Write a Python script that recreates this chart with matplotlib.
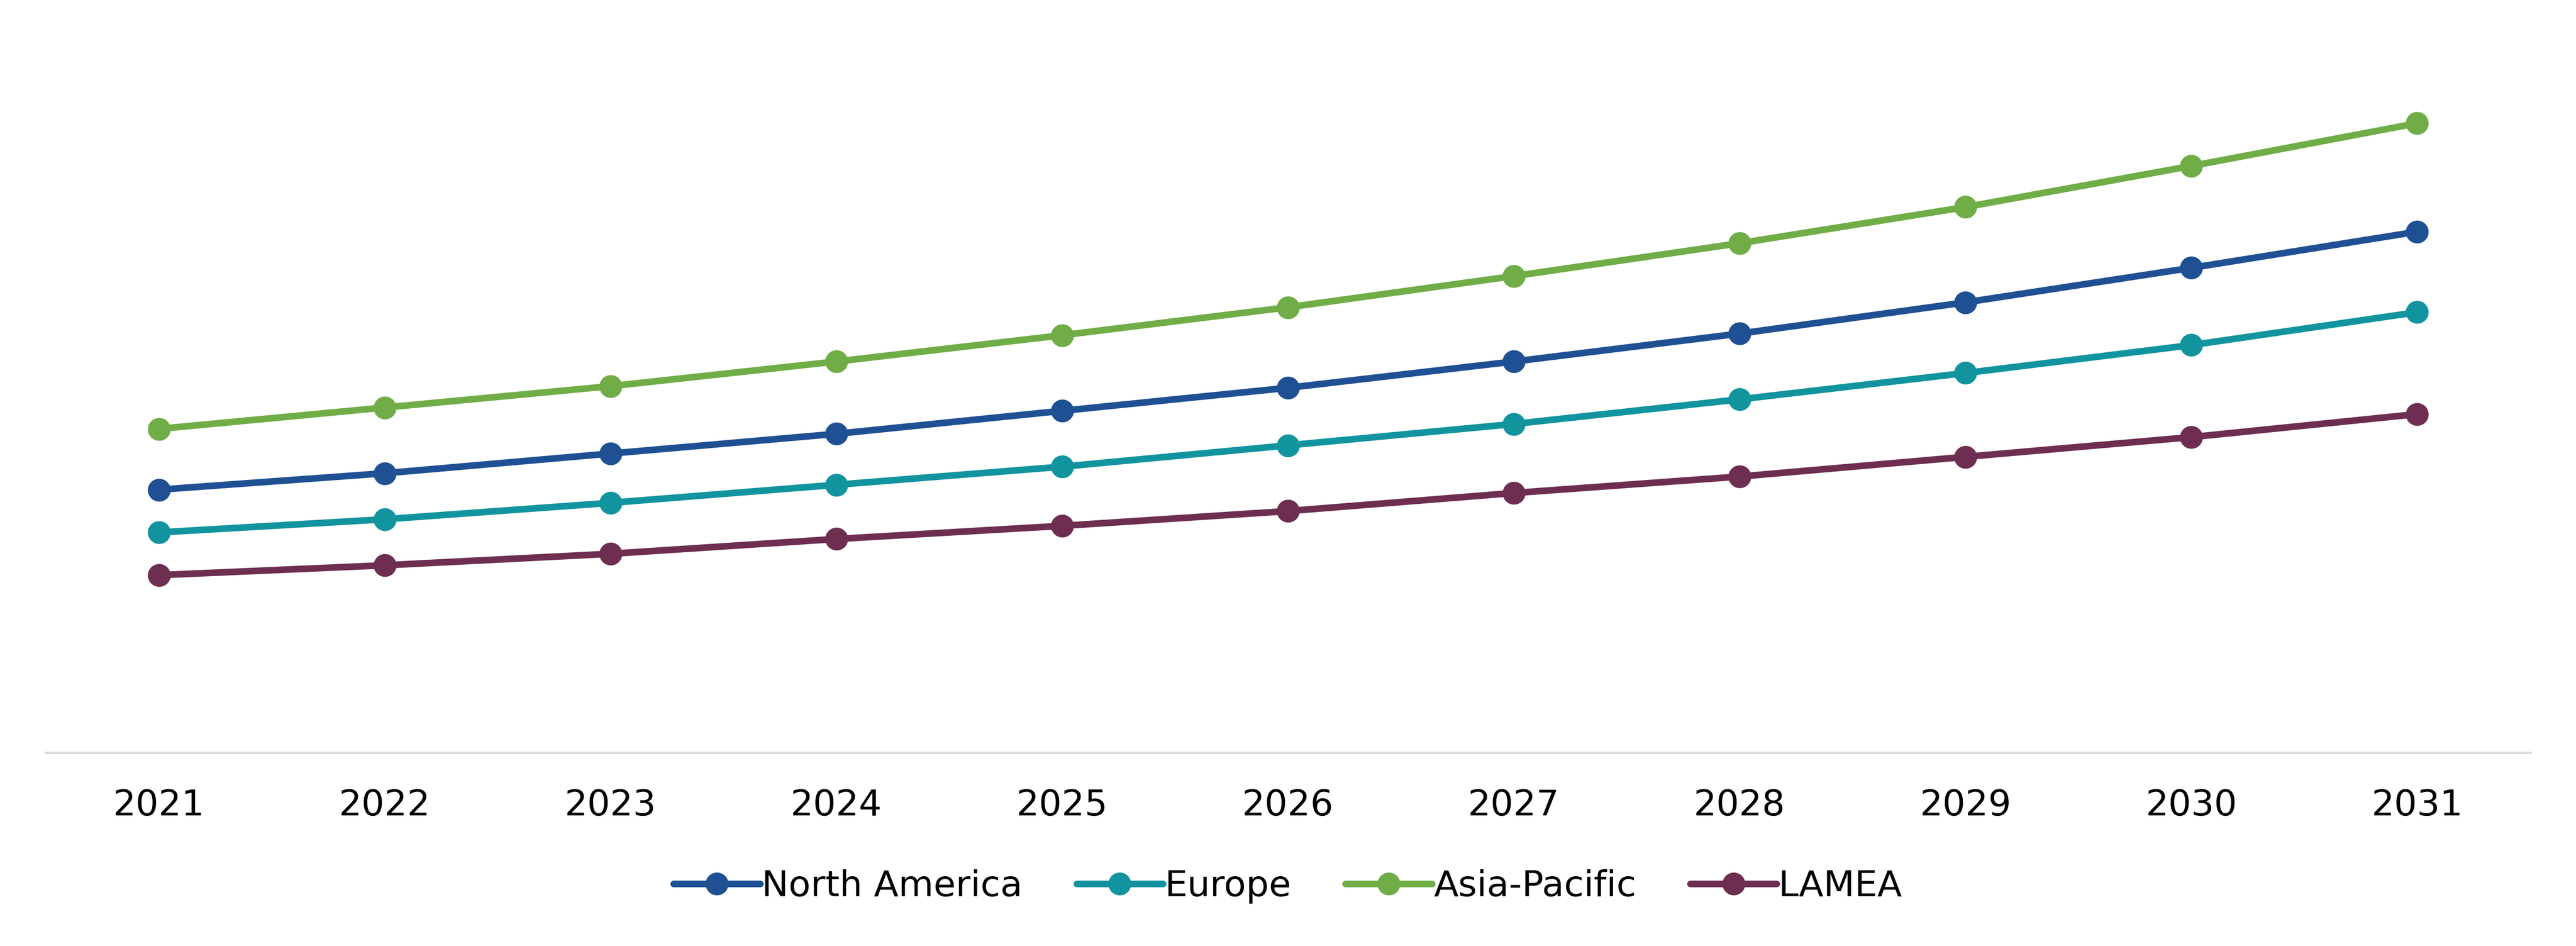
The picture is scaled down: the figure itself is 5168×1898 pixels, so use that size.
import numpy as np
import matplotlib.pyplot as plt

plt.rcParams['font.family'] = ['DejaVu Sans']

years = ["2021", "2022", "2023", "2024", "2025", "2026",
         "2027", "2028", "2029", "2030", "2031"]

# values (no y scale shown, relative units)
north_america = [160, 170, 182, 194, 208, 222, 238, 255, 274, 295, 317]
europe = [134, 142, 152, 163, 174, 187, 200, 215, 231, 248, 268]
asia_pacific = [197, 210, 223, 238, 254, 271, 290, 310, 332, 357, 383]
lamea = [108, 114, 121, 130, 138, 147, 158, 168, 180, 192, 206]

series = [("North America", north_america, "#1f5094"),
          ("Europe", europe, "#12949f"),
          ("Asia-Pacific", asia_pacific, "#70ad47"),
          ("LAMEA", lamea, "#6d2e51")]

fig = plt.figure(figsize=(25.84, 9.49), dpi=200)
ax = fig.add_axes([0.0178, 0.2044, 0.9644, 0.7956])

x = np.arange(len(years))
for name, vals, col in series:
    ax.plot(x, vals, color=col, lw=4.8, marker="o", markersize=15.5,
            label=name, solid_capstyle="round")

ax.set_xlim(-0.5, len(years) - 0.5)
ax.set_ylim(0, 458)
ax.set_xticks(x)
ax.set_xticklabels(years, fontsize=26)
ax.tick_params(axis="x", length=0, pad=26)
ax.set_yticks([])
for side in ["top", "right", "left"]:
    ax.spines[side].set_visible(False)
ax.spines["bottom"].set_color("#d9d9d9")
ax.spines["bottom"].set_linewidth(1.8)

fig.legend(loc="center", bbox_to_anchor=(0.5, 0.063), ncol=4, fontsize=26,
           frameon=False, handlelength=2.4, handletextpad=0.05,
           columnspacing=1.5)

fig.savefig("out.png", dpi=200)
